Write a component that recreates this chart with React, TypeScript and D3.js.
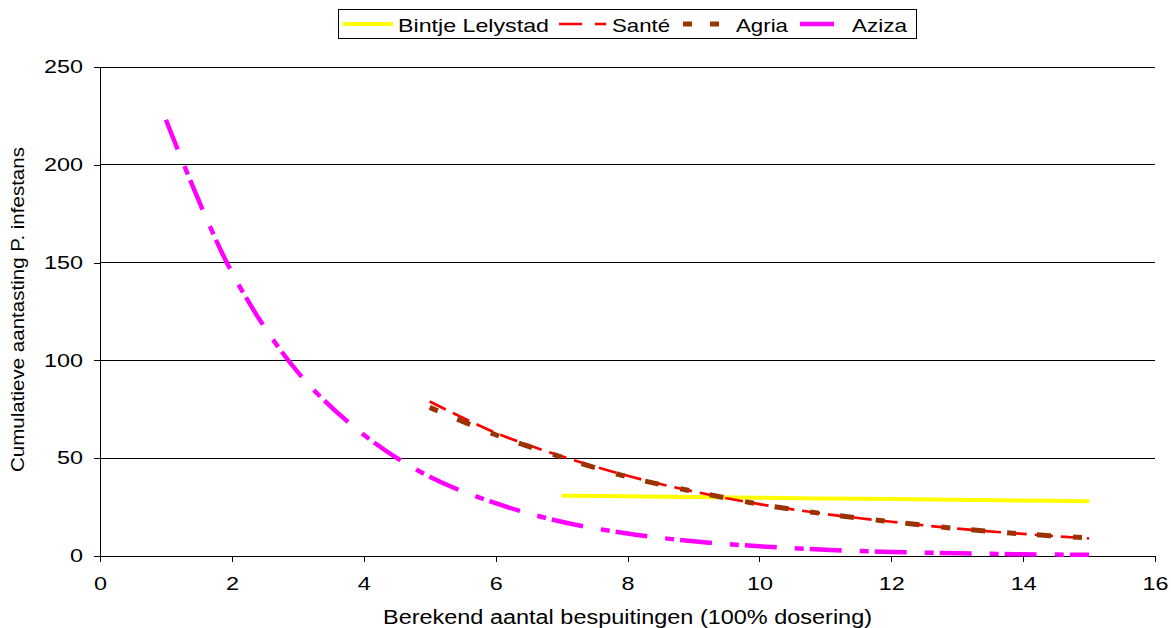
import { useEffect, useRef } from 'react';
import * as d3 from 'd3';

// x values (berekend aantal bespuitingen) and cumulative attack per cultivar
const bintjeX = [7, 8, 9, 10, 11, 12, 13, 14, 15];
const bintjeY = [30.8, 30.5, 30.1, 29.8, 29.4, 29.1, 28.7, 28.4, 28.0];

const santeX = [5, 6, 7, 8, 9, 10, 11, 12, 13, 14, 15];
const santeY = [79, 63, 51, 41, 33, 26.5, 21.5, 17.5, 14, 11.3, 9];

const agriaX = [5, 6, 7, 8, 9, 10, 11, 12, 13, 14, 15];
const agriaY = [76, 62, 50.5, 40.5, 33, 26.5, 21.5, 17.5, 14, 11.3, 9.2];

const azizaX = [1, 2, 3, 4, 5, 6, 7, 8, 9, 10, 11, 12, 13, 14, 15];
const azizaY = [223, 145, 94, 62, 40.5, 27, 17.5, 11.5, 7.5, 5, 3.2, 2.1, 1.4, 0.9, 0.6];

const xTicks = [0, 2, 4, 6, 8, 10, 12, 14, 16];
const yTicks = [0, 50, 100, 150, 200, 250];

const seriesNames = ['Bintje Lelystad', 'Santé', 'Agria', 'Aziza'];

const series = [
  { name: seriesNames[0], xs: bintjeX, ys: bintjeY, color: '#ffff00', width: 4, dash: '', legendDash: '' },
  { name: seriesNames[1], xs: santeX, ys: santeY, color: '#ff0000', width: 2.7, dash: '18,8', legendDash: '23,13' },
  { name: seriesNames[2], xs: agriaX, ys: agriaY, color: '#993300', width: 5, dash: '9,21,14,22', legendDash: '9,18' },
  { name: seriesNames[3], xs: azizaX, ys: azizaY, color: '#ff00ff', width: 4.5, dash: '32,18,9,6', legendDash: '' },
];

const FONT = 'Liberation Sans, Arial, sans-serif';
const SX = 1.3; // the original is stretched sideways

function Chart() {
  const svgRef = useRef<SVGSVGElement>(null);

  useEffect(() => {
    if (!svgRef.current) return;
    const svg = d3.select(svgRef.current);
    svg.selectAll('*').remove();

    const x = d3.scaleLinear().domain([0, 16]).range([100, 1155]);
    const y = d3.scaleLinear().domain([0, 250]).range([556, 67]);

    // Grid lines
    svg.append('g')
      .selectAll('line')
      .data(yTicks.filter((t) => t > 0))
      .enter()
      .append('line')
      .attr('x1', x(0))
      .attr('x2', x(16))
      .attr('y1', (d) => y(d))
      .attr('y2', (d) => y(d))
      .attr('stroke', '#000')
      .attr('stroke-width', 1)
      .attr('shape-rendering', 'crispEdges');

    // Y axis
    const yAxis = svg.append('g')
      .attr('transform', `translate(${x(0)},0)`)
      .call(d3.axisLeft(y).tickValues(yTicks).tickSize(6).tickPadding(0));
    yAxis.selectAll('.tick text')
      .attr('x', 0)
      .attr('font-size', '18px')
      .attr('font-family', FONT)
      .attr('fill', '#000')
      .attr('transform', `translate(-17,0) scale(${SX},1)`);

    // X axis
    const xAxis = svg.append('g')
      .attr('transform', `translate(0,${y(0)})`)
      .call(d3.axisBottom(x).tickValues(xTicks).tickSize(6).tickPadding(15));
    xAxis.selectAll('.tick text')
      .attr('font-size', '18px')
      .attr('font-family', FONT)
      .attr('fill', '#000')
      .attr('transform', `scale(${SX},1)`);

    svg.selectAll('.domain').attr('stroke', '#000').attr('shape-rendering', 'crispEdges');
    svg.selectAll('.tick line').attr('stroke', '#000').attr('shape-rendering', 'crispEdges');

    // Series lines
    const line = d3
      .line<[number, number]>()
      .x((d) => x(d[0]))
      .y((d) => y(d[1]))
      .curve(d3.curveCatmullRom.alpha(0.5));

    series.forEach((s) => {
      const pts = s.xs.map((v, i) => [v, s.ys[i]] as [number, number]);
      svg.append('path')
        .datum(pts)
        .attr('d', line)
        .attr('fill', 'none')
        .attr('stroke', s.color)
        .attr('stroke-width', s.width)
        .attr('stroke-dasharray', s.dash || null);
    });

    // Axis titles
    svg.append('text')
      .attr('x', 383)
      .attr('y', 624)
      .attr('font-size', '20px')
      .attr('font-family', FONT)
      .attr('textLength', 489)
      .attr('lengthAdjust', 'spacingAndGlyphs')
      .text('Berekend aantal bespuitingen (100% dosering)');

    svg.append('text')
      .attr('transform', 'translate(24,472) rotate(-90)')
      .attr('font-size', '18px')
      .attr('font-family', FONT)
      .attr('textLength', 325)
      .attr('lengthAdjust', 'spacingAndGlyphs')
      .text('Cumulatieve aantasting P. infestans');

    // Legend
    const legend = svg.append('g');
    legend.append('rect')
      .attr('x', 338.5)
      .attr('y', 9.5)
      .attr('width', 578)
      .attr('height', 29)
      .attr('fill', '#fff')
      .attr('stroke', '#000')
      .attr('stroke-width', 1);

    const items = [
      { x1: 343, x2: 393, tx: 398, tw: 151 },
      { x1: 559, x2: 606, tx: 612, tw: 58 },
      { x1: 683, x2: 721, tx: 736, tw: 52 },
      { x1: 800, x2: 834, tx: 852, tw: 55 },
    ];
    series.forEach((s, i) => {
      const it = items[i];
      legend.append('line')
        .attr('x1', it.x1)
        .attr('x2', it.x2)
        .attr('y1', 24)
        .attr('y2', 24)
        .attr('stroke', s.color)
        .attr('stroke-width', s.width)
        .attr('stroke-dasharray', s.legendDash || null);
      legend.append('text')
        .attr('x', it.tx)
        .attr('y', 31.5)
        .attr('font-size', '19px')
        .attr('font-family', FONT)
        .attr('textLength', it.tw)
        .attr('lengthAdjust', 'spacingAndGlyphs')
        .text(s.name);
    });
  }, []);

  return (
    <svg
      ref={svgRef}
      width={1171}
      height={628}
      style={{ position: 'absolute', left: 0, top: 0, display: 'block', background: '#fff' }}
    />
  );
}

export default function App() {
  return <Chart />;
}
